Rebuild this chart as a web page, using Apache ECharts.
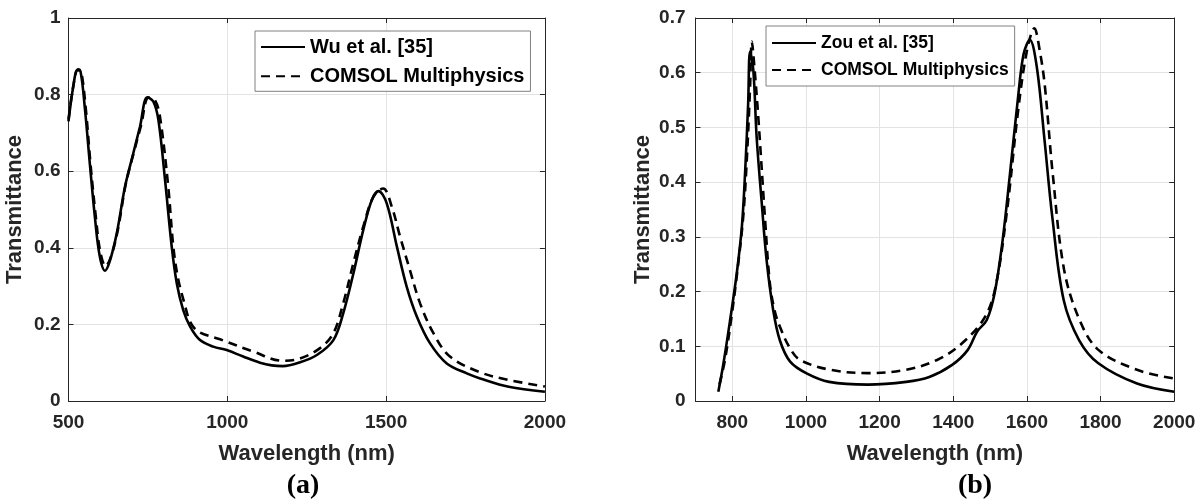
<!DOCTYPE html>
<html>
<head>
<meta charset="utf-8">
<title>Transmittance comparison</title>
<script src="https://cdn.jsdelivr.net/npm/echarts@6/dist/echarts.min.js"></script>
<style>
  html, body { margin: 0; padding: 0; background: #fff; }
  #chart { width: 1199px; height: 504px; }
</style>
</head>
<body>
<div id="chart"></div>
<script>
// (a) Wu et al. vs COMSOL
const wuX = [500, 515, 528, 538, 552, 568, 583, 598, 615, 630, 652, 678, 704, 725, 748, 767, 783, 804, 825, 841, 861, 883, 914, 956, 998, 1050, 1103, 1140, 1175, 1229, 1282, 1334, 1365, 1397, 1428, 1455, 1476, 1502, 1534, 1565, 1597, 1638, 1691, 1754, 1796, 1886, 2000];
const wuY = [0.730, 0.821, 0.864, 0.860, 0.760, 0.612, 0.481, 0.380, 0.340, 0.365, 0.438, 0.560, 0.647, 0.716, 0.793, 0.782, 0.734, 0.577, 0.403, 0.307, 0.238, 0.194, 0.159, 0.142, 0.133, 0.116, 0.100, 0.093, 0.091, 0.101, 0.120, 0.159, 0.229, 0.333, 0.446, 0.525, 0.548, 0.516, 0.403, 0.298, 0.220, 0.151, 0.098, 0.072, 0.059, 0.037, 0.024];

const comsolAX = [500, 515, 530, 540, 555, 570, 586, 600, 617, 633, 655, 680, 706, 728, 752, 772, 788, 814, 830, 845, 865, 883, 909, 977, 1082, 1175, 1229, 1292, 1334, 1365, 1397, 1428, 1460, 1491, 1518, 1544, 1575, 1607, 1649, 1701, 1796, 1886, 2000];
const comsolAY = [0.735, 0.822, 0.866, 0.860, 0.758, 0.612, 0.481, 0.390, 0.352, 0.375, 0.445, 0.565, 0.650, 0.718, 0.792, 0.786, 0.742, 0.560, 0.403, 0.320, 0.255, 0.207, 0.181, 0.161, 0.129, 0.105, 0.111, 0.138, 0.177, 0.255, 0.360, 0.455, 0.533, 0.555, 0.507, 0.429, 0.342, 0.255, 0.177, 0.116, 0.075, 0.055, 0.038];

// (b) Zou et al. vs COMSOL
const zouX = [762, 776, 794, 812, 826, 835, 843, 848, 857, 866, 880, 893, 911, 929, 957, 1003, 1063, 1168, 1272, 1335, 1397, 1439, 1465, 1491, 1512, 1533, 1554, 1575, 1591, 1608, 1627, 1648, 1669, 1700, 1742, 1794, 1899, 2000];
const zouY = [0.017, 0.069, 0.148, 0.233, 0.319, 0.422, 0.544, 0.638, 0.605, 0.483, 0.361, 0.258, 0.166, 0.111, 0.072, 0.050, 0.035, 0.030, 0.035, 0.044, 0.066, 0.093, 0.127, 0.148, 0.196, 0.288, 0.415, 0.549, 0.634, 0.660, 0.610, 0.476, 0.336, 0.184, 0.111, 0.069, 0.032, 0.017];

const comsolBX = [765, 780, 798, 815, 830, 840, 848, 853, 860, 871, 889, 902, 915, 929, 957, 984, 1066, 1168, 1272, 1356, 1418, 1481, 1512, 1544, 1576, 1600, 1620, 1635, 1649, 1670, 1701, 1743, 1795, 1899, 2000];
const comsolBY = [0.030, 0.075, 0.155, 0.245, 0.340, 0.450, 0.570, 0.657, 0.610, 0.514, 0.331, 0.215, 0.165, 0.136, 0.096, 0.075, 0.057, 0.051, 0.057, 0.075, 0.102, 0.148, 0.200, 0.337, 0.530, 0.640, 0.681, 0.640, 0.574, 0.416, 0.240, 0.148, 0.093, 0.057, 0.041];

const xTicksB = [800, 1000, 1200, 1400, 1600, 1800, 2000];

const INK = '#262626';
const GRID_LINE = '#e3e3e3';
const SANS = '"Liberation Sans", Arial, sans-serif';

const pairs = (xs, ys) => xs.map((x, i) => [x, ys[i]]);

const labelStyle = { color: INK, fontFamily: SANS, fontWeight: 'bold', fontSize: 19 };
const nameStyle = { color: INK, fontFamily: SANS, fontWeight: 'bold', fontSize: 22 };
const lineAxis = { show: true, onZero: false, lineStyle: { color: INK, width: 1 } };
const tickIn = { show: true, inside: true, length: 5, lineStyle: { color: INK, width: 1 } };
const plain = (v) => String(v); // no thousands separator

// main axes carry labels and grid lines, the mirrored ones only close the box
function xMain(grid, min, max, extra) {
  return Object.assign({
    type: 'value', gridIndex: grid, position: 'bottom', min, max,
    axisLine: lineAxis, axisTick: tickIn,
    axisLabel: Object.assign({ margin: 12, formatter: plain }, labelStyle),
    splitLine: { show: true, lineStyle: { color: GRID_LINE, width: 1 } },
    name: 'Wavelength (nm)', nameLocation: 'middle', nameGap: 42, nameTextStyle: nameStyle
  }, extra);
}
function xMirror(grid, min, max, extra) {
  return Object.assign({
    type: 'value', gridIndex: grid, position: 'top', min, max,
    axisLine: lineAxis, axisTick: tickIn, axisLabel: { show: false }, splitLine: { show: false }
  }, extra);
}
function yMain(grid, max, interval, margin, gap) {
  return {
    type: 'value', gridIndex: grid, position: 'left', min: 0, max, interval,
    axisLine: lineAxis, axisTick: tickIn,
    axisLabel: Object.assign({ margin }, labelStyle),
    splitLine: { show: true, lineStyle: { color: GRID_LINE, width: 1 } },
    name: 'Transmittance', nameLocation: 'middle', nameGap: gap, nameTextStyle: nameStyle
  };
}
function yMirror(grid, max, interval) {
  return {
    type: 'value', gridIndex: grid, position: 'right', min: 0, max, interval,
    axisLine: lineAxis, axisTick: tickIn, axisLabel: { show: false }, splitLine: { show: false }
  };
}

function curve(name, xi, yi, data, dashed) {
  return {
    name, type: 'line', xAxisIndex: xi, yAxisIndex: yi, data,
    symbol: 'none', smooth: 0.35, silent: true,
    lineStyle: { color: '#000', width: 2.6, type: dashed ? [9, 6] : 'solid' },
    itemStyle: { color: '#000' }
  };
}

function legendBox(names, left, top, fontSize, gap, padding) {
  return {
    data: names, orient: 'vertical', left, top,
    itemWidth: 44, itemHeight: 14, itemGap: gap, padding,
    backgroundColor: '#fff', borderColor: '#808080', borderWidth: 1,
    selectedMode: false,
    // hide the circle marker that line series put in the legend
    itemStyle: { color: 'rgba(0,0,0,0)', borderWidth: 0, opacity: 0 },
    textStyle: { color: '#000', fontFamily: SANS, fontWeight: 'bold', fontSize, lineHeight: fontSize }
  };
}

const chart = echarts.init(document.getElementById('chart'), null, { renderer: 'canvas' });

chart.setOption({
  animation: false,
  backgroundColor: '#fff',
  grid: [
    { left: 68.5, top: 18, width: 476.4, height: 383 },
    { left: 695.5, top: 18, width: 478.7, height: 383 }
  ],
  xAxis: [
    xMain(0, 500, 2000, { interval: 500 }),
    xMirror(0, 500, 2000, { interval: 500 }),
    xMain(1, 700, 2000, {
      axisTick: Object.assign({ customValues: xTicksB }, tickIn),
      axisLabel: Object.assign({ margin: 12, formatter: plain, customValues: xTicksB }, labelStyle)
    }),
    xMirror(1, 700, 2000, { axisTick: Object.assign({ customValues: xTicksB }, tickIn) })
  ],
  yAxis: [
    yMain(0, 1, 0.2, 8, 42.5),
    yMirror(0, 1, 0.2),
    yMain(1, 0.7, 0.1, 10, 42),
    yMirror(1, 0.7, 0.1)
  ],
  legend: [
    legendBox(['Wu et al. [35]', 'COMSOL Multiphysics'], 255, 31, 20, 9.3, [6, 6, 5, 5]),
    legendBox(['Zou et al. [35]', 'COMSOL Multiphysics'], 766, 26, 17.5, 9, [8, 6, 7, 5])
  ],
  series: [
    curve('Wu et al. [35]', 0, 0, pairs(wuX, wuY), false),
    curve('COMSOL Multiphysics', 0, 0, pairs(comsolAX, comsolAY), true),
    curve('Zou et al. [35]', 2, 2, pairs(zouX, zouY), false),
    curve('COMSOL Multiphysics', 2, 2, pairs(comsolBX, comsolBY), true)
  ],
  graphic: [
    { type: 'text', x: 303, y: 486, style: { text: '(a)', fill: '#000', font: 'bold 28px "Liberation Serif", "Times New Roman", serif', textAlign: 'center', textVerticalAlign: 'middle' } },
    { type: 'text', x: 975, y: 486, style: { text: '(b)', fill: '#000', font: 'bold 28px "Liberation Serif", "Times New Roman", serif', textAlign: 'center', textVerticalAlign: 'middle' } }
  ]
});

window.addEventListener('resize', () => chart.resize());
</script>
</body>
</html>
